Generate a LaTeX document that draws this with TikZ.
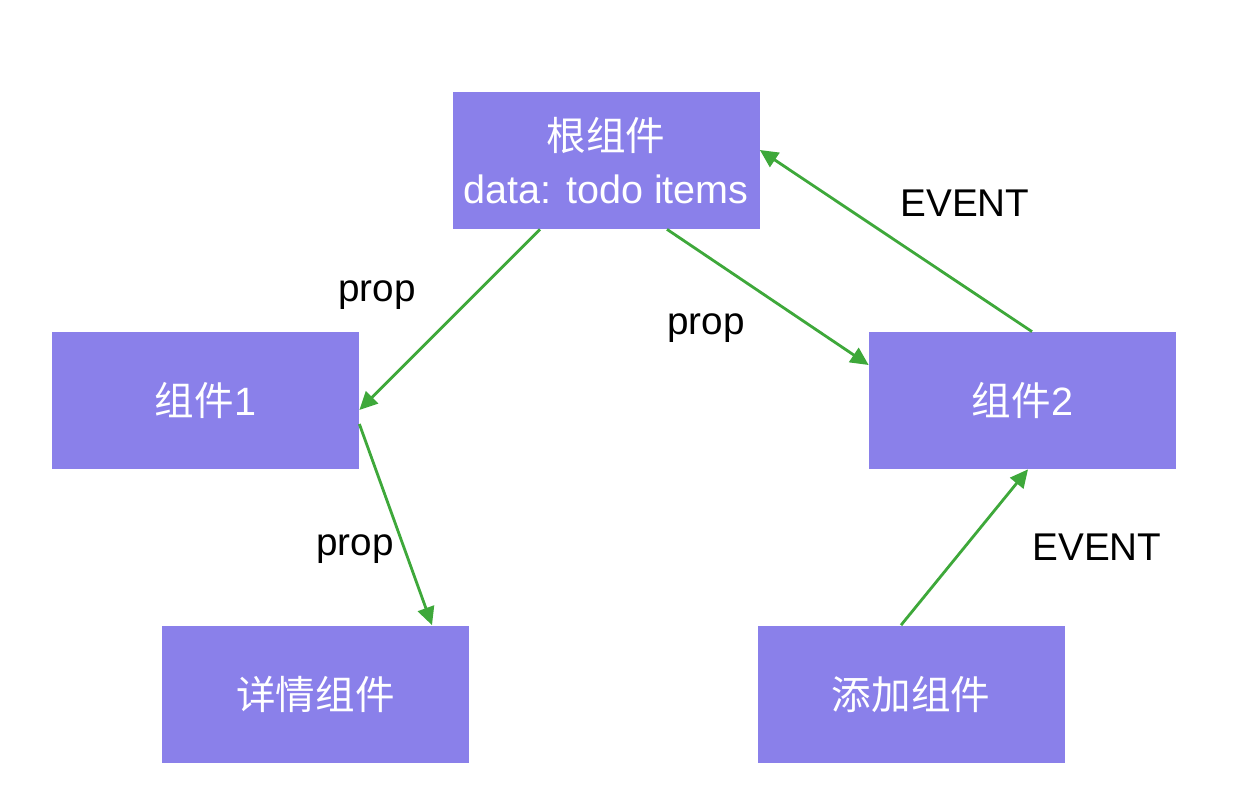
\documentclass[tikz,border=0pt]{standalone}
\usepackage{fontspec}
\setmainfont{Liberation Sans}
\newfontfamily\cjk{Noto Sans CJK SC}
\usetikzlibrary{arrows.meta}
\definecolor{boxpurple}{HTML}{8A80EA}
\definecolor{arrowgreen}{HTML}{3EA83A}
\begin{document}
\begin{tikzpicture}[
  box/.style={draw=none,fill=boxpurple,text=white,minimum width=6.14cm,minimum height=2.74cm,inner sep=0pt,align=center,font=\fontsize{22.5}{30}\selectfont},
  flow/.style={draw=arrowgreen,line width=1.6pt,-{Triangle[length=0.36cm,width=0.34cm]}},
  lbl/.style={font=\fontsize{22}{26}\selectfont}
]
\useasboundingbox (0,0) rectangle (25.04,16.16);

\node[box] (root) at (12.12,12.95) {{\cjk 根组件}\\data: todo items};
\node[box] (c1) at (4.11,8.15) {{\cjk 组件}1};
\node[box] (c2) at (20.45,8.15) {{\cjk 组件}2};
\node[box] (detail) at (6.31,2.28) {\cjk 详情组件};
\node[box] (add) at (18.22,2.28) {\cjk 添加组件};

\node[lbl] (p1) at (7.54,10.26) {prop};
\node[lbl] (p2) at (14.12,9.6) {prop};
\node[lbl] (e1) at (19.3,12.1) {EVENT};
\node[lbl] (p3) at (7.1,5.18) {prop};
\node[lbl] (e2) at (21.94,5.22) {EVENT};

\draw[flow] ([xshift=-1.32cm]root.south)--([yshift=-0.19cm]c1.east);
\draw[flow] ([xshift=1.22cm]root.south)--([yshift=0.71cm]c2.west);
\draw[flow] ([xshift=0.19cm]c2.north)--([yshift=0.21cm]root.east);
\draw[flow] ([yshift=-0.47cm]c1.east)--([xshift=2.33cm]detail.north);
\draw[flow] ([xshift=-0.2cm]add.north)--([xshift=0.11cm]c2.south);
\end{tikzpicture}
\end{document}
